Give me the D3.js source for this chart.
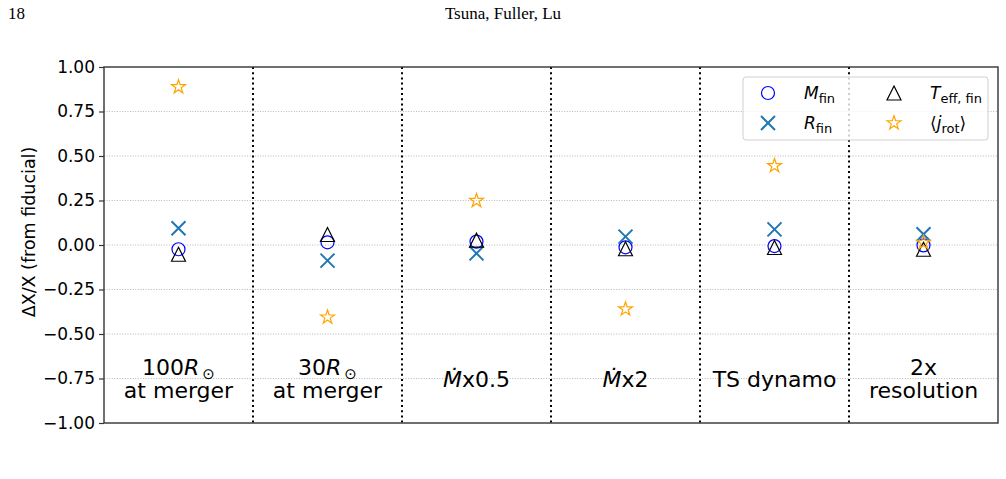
<!DOCTYPE html>
<html>
<head>
    <meta charset="utf-8">
    <title>deltaX</title>
    <script src="https://d3js.org/d3.v7.min.js"></script>
    <style>
        body { margin: 0; background: #fff; }
        text { font-family: "DejaVu Sans", sans-serif; }
        .hdr { font-family: "Liberation Serif", "DejaVu Serif", serif; }
    </style>
</head>
<body>
    <svg width="1006" height="479" id="mainsvg"></svg>
    <script>
        // values
        const categories = ['100R', '30R', 'Mdot0.5', 'Mdot2', 'TS', '2x'];
        const mFin = [-0.024, 0.015, 0.019, -0.013, -0.006, -0.002];
        const rFin = [0.094, -0.088, -0.047, 0.047, 0.088, 0.06];
        const tEffFin = [-0.052, 0.059, 0.027, -0.021, -0.014, -0.024];
        const jRot = [0.888, -0.406, 0.249, -0.36, 0.445, 0.013];
        const yTicks = [-1, -0.75, -0.5, -0.25, 0, 0.25, 0.5, 0.75, 1];

        const svg = d3.select('#mainsvg');
        const margin = { top: 67, right: 8, bottom: 56, left: 104 };
        const innerWidth = 1006 - margin.left - margin.right;
        const innerHeight = 479 - margin.top - margin.bottom;

        // page header
        svg.append('text').attr('class', 'hdr').attr('x', 8).attr('y', 19)
            .attr('font-size', '17px').text('18');
        svg.append('text').attr('class', 'hdr').attr('x', 503).attr('y', 19)
            .attr('font-size', '17px').attr('text-anchor', 'middle').text('Tsuna, Fuller, Lu');

        const g = svg.append('g').attr('transform', `translate(${margin.left}, ${margin.top})`);

        const xScale = d3.scaleBand().domain(categories).range([0, innerWidth]);
        const yScale = d3.scaleLinear().domain([-1, 1]).range([innerHeight, 0]);

        // horizontal grid
        g.selectAll('.grid').data(yTicks.filter(t => Math.abs(t) < 1)).join('line')
            .attr('x1', 0).attr('x2', innerWidth)
            .attr('y1', d => yScale(d)).attr('y2', d => yScale(d))
            .attr('stroke', '#b0b0b0').attr('stroke-width', 0.9)
            .attr('stroke-dasharray', '1,1.6');

        // dotted separators between runs
        g.selectAll('.sep').data(categories.slice(1)).join('line')
            .attr('x1', d => xScale(d)).attr('x2', d => xScale(d))
            .attr('y1', 0).attr('y2', innerHeight)
            .attr('stroke', '#000').attr('stroke-width', 2)
            .attr('stroke-dasharray', '2,3.2');

        // run labels (centred on y = -0.75)
        const labelLines = {
            '100R': [['100', 'R', '⊙'], ['at merger']],
            '30R': [['30', 'R', '⊙'], ['at merger']],
            'Mdot0.5': [['', 'Ṁ', 'x0.5']],
            'Mdot2': [['', 'Ṁ', 'x2']],
            'TS': [['TS dynamo']],
            '2x': [['2x'], ['resolution']]
        };
        categories.forEach(c => {
            const lines = labelLines[c];
            const cx = xScale(c) + xScale.bandwidth() / 2;
            const cy = yScale(-0.75);
            const lh = 23.5;
            lines.forEach((ln, i) => {
                const y = cy + (i - (lines.length - 1) / 2) * lh + 8;
                const t = g.append('text').attr('x', cx).attr('y', y)
                    .attr('text-anchor', 'middle').attr('font-size', '22px').attr('fill', '#000');
                if (ln.length === 1) {
                    t.text(ln[0]);
                } else {
                    t.append('tspan').text(ln[0]);
                    t.append('tspan').attr('font-style', 'italic').text(ln[1]);
                    if (ln[2] === '⊙') {
                        t.append('tspan').attr('font-size', '15px').attr('dx', 3).attr('dy', 4).text(ln[2]);
                    } else {
                        t.append('tspan').text(ln[2]);
                    }
                }
            });
        });

        // frame
        g.append('rect').attr('width', innerWidth).attr('height', innerHeight)
            .attr('fill', 'none').attr('stroke', '#333').attr('stroke-width', 1.4);

        // y axis
        const yAxis = d3.axisLeft(yScale).tickValues(yTicks).tickSize(5).tickPadding(4)
            .tickFormat(d => d3.format('.2f')(d).replace('-', '−'));
        const yAxisGroup = g.append('g').call(yAxis);
        yAxisGroup.select('.domain').remove();
        yAxisGroup.selectAll('.tick line').attr('stroke', '#333').attr('stroke-width', 1.2);
        yAxisGroup.selectAll('text').attr('font-size', '17px').attr('fill', '#000')
            .attr('font-family', '"DejaVu Sans", sans-serif');

        svg.append('text')
            .attr('transform', 'translate(35, 232) rotate(-90)')
            .attr('text-anchor', 'middle').attr('font-size', '17.5px').attr('fill', '#000')
            .text('ΔX/X (from fiducial)');

        // marker shapes
        const triPath = s => `M0,${-s}L${s},${s}L${-s},${s}Z`;
        const star = d3.symbol().type(d3.symbolStar).size(60);
        const cross = s => `M${-s},${-s}L${s},${s}M${-s},${s}L${s},${-s}`;

        const series = [
            { values: mFin, draw: sel => sel.append('circle').attr('r', 6.5).attr('fill', 'none').attr('stroke', '#0000ff').attr('stroke-width', 1.2) },
            { values: rFin, draw: sel => sel.append('path').attr('d', cross(7)).attr('fill', 'none').attr('stroke', '#1f77b4').attr('stroke-width', 2) },
            { values: tEffFin, draw: sel => sel.append('path').attr('d', triPath(7)).attr('fill', 'none').attr('stroke', '#000').attr('stroke-width', 1.2) },
            { values: jRot, draw: sel => sel.append('path').attr('d', star()).attr('fill', 'none').attr('stroke', '#ffa500').attr('stroke-width', 1.2) }
        ];

        series.forEach(s => {
            s.values.forEach((v, i) => {
                const mg = g.append('g')
                    .attr('transform', `translate(${xScale(categories[i]) + xScale.bandwidth() / 2}, ${yScale(v)})`);
                s.draw(mg);
            });
        });

        // legend
        const lg = svg.append('g').attr('transform', 'translate(743, 77)');
        lg.append('rect').attr('width', 245).attr('height', 63).attr('rx', 3)
            .attr('fill', 'rgba(255,255,255,0.8)').attr('stroke', '#d0d0d0').attr('stroke-width', 1);

        const legendItems = [
            { x: 25, y: 16, s: 0, main: 'M', sub: 'fin' },
            { x: 25, y: 46, s: 1, main: 'R', sub: 'fin' },
            { x: 151, y: 16, s: 2, main: 'T', sub: 'eff, fin' },
            { x: 151, y: 46, s: 3, main: 'j', sub: 'rot', brackets: true }
        ];
        legendItems.forEach(it => {
            const mg = lg.append('g').attr('transform', `translate(${it.x}, ${it.y})`);
            series[it.s].draw(mg);
            const t = lg.append('text').attr('x', it.x + 36).attr('y', it.y + 6)
                .attr('font-size', '17px').attr('fill', '#000');
            if (it.brackets) t.append('tspan').text('⟨');
            t.append('tspan').attr('font-style', 'italic').text(it.main);
            t.append('tspan').attr('font-size', '13px').attr('dy', 4).text(it.sub);
            if (it.brackets) t.append('tspan').attr('dy', -4).text('⟩');
        });
    </script>
</body>
</html>
